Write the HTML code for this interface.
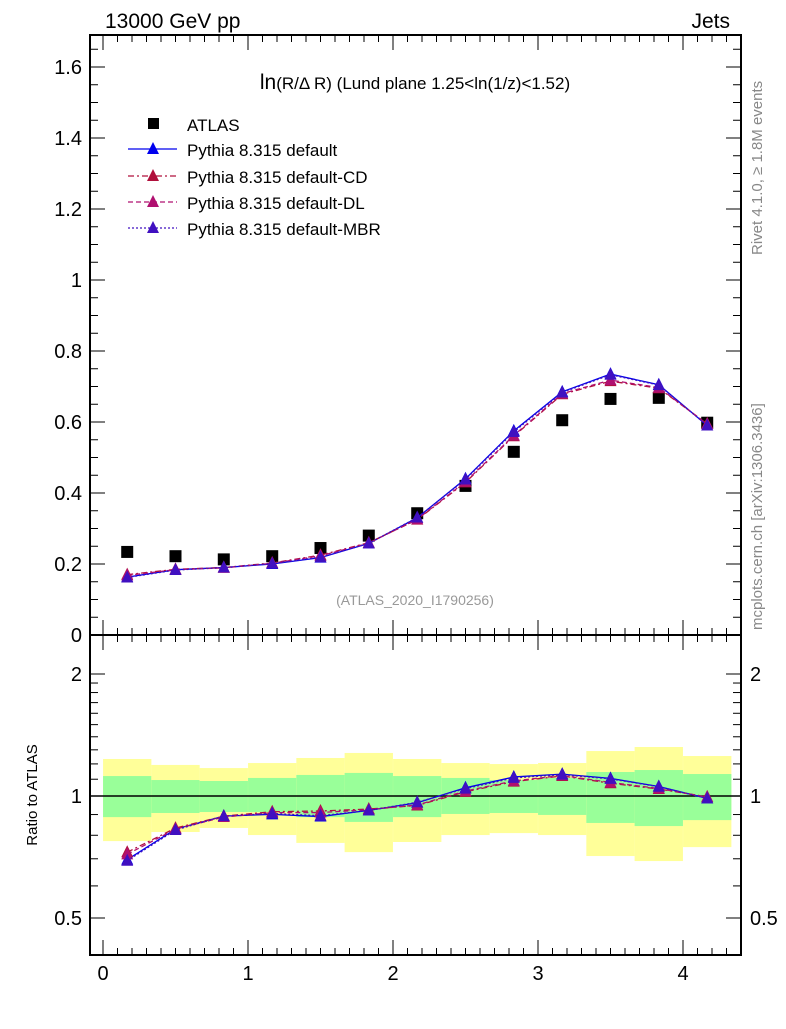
<!DOCTYPE html>
<html><head><meta charset="utf-8"><style>
body{margin:0;background:#fff}
svg text{font-family:"Liberation Sans",sans-serif}
</style></head><body>
<svg id="chart" width="786" height="1024" xmlns="http://www.w3.org/2000/svg">
<g id="bands"></g>
<g id="axes"></g>
<g id="series"></g>
<text x="105" y="28" font-size="21">13000 GeV pp</text>
<text x="730" y="28" font-size="21" text-anchor="end">Jets</text>
<text x="415" y="89" font-size="17" text-anchor="middle"><tspan font-size="21">ln</tspan>(R/Δ R) (Lund plane 1.25&lt;ln(1/z)&lt;1.52)</text>
<text x="415" y="605" font-size="14" fill="#999" text-anchor="middle">(ATLAS_2020_I1790256)</text>
<text transform="translate(762,255) rotate(-90)" font-size="15" fill="#888">Rivet 4.1.0, ≥ 1.8M events</text>
<text transform="translate(762,630) rotate(-90)" font-size="15" fill="#888">mcplots.cern.ch [arXiv:1306.3436]</text>
<text transform="translate(37,795) rotate(-90)" font-size="15" text-anchor="middle">Ratio to ATLAS</text>
<g id="legend"></g>
</svg>
<script>
const centers=[0.167,0.5,0.833,1.167,1.5,1.833,2.167,2.5,2.833,3.167,3.5,3.833,4.167];
const atlas=[0.234,0.222,0.213,0.222,0.245,0.28,0.343,0.42,0.516,0.605,0.665,0.668,0.598];
const mcDefault=[0.163,0.184,0.19,0.2,0.218,0.258,0.33,0.44,0.575,0.685,0.735,0.705,0.59];
const mcCD=[0.17,0.185,0.19,0.203,0.225,0.26,0.325,0.43,0.56,0.678,0.715,0.695,0.595];
const mcDL=[0.168,0.184,0.189,0.202,0.223,0.259,0.326,0.432,0.562,0.68,0.718,0.697,0.594];
const mcMBR=[0.162,0.183,0.19,0.201,0.219,0.258,0.331,0.438,0.572,0.683,0.733,0.704,0.59];
const greenUp=[1.12,1.095,1.089,1.108,1.127,1.14,1.12,1.108,1.095,1.108,1.146,1.159,1.133];
const greenLo=[0.887,0.908,0.913,0.913,0.887,0.863,0.887,0.903,0.908,0.898,0.858,0.843,0.872];
const yellowUp=[1.234,1.193,1.172,1.206,1.241,1.277,1.234,1.206,1.199,1.206,1.291,1.321,1.255];
const yellowLo=[0.774,0.815,0.834,0.801,0.766,0.727,0.77,0.801,0.81,0.801,0.711,0.691,0.748];
const mainTicks=["0","0.2","0.4","0.6","0.8","1","1.2","1.4","1.6"];
const xTicks=["0","1","2","3","4"];
const binW=1/3;

const NS="http://www.w3.org/2000/svg";
const L=90,R=741,T=35,MB=635,RB=955;
const X=v=>103+v*145;
const Y=v=>635-v*355;
const RY=r=>796-122*Math.log2(r);
function mk(p,tag,a){const e=document.createElementNS(NS,tag);for(const k in a)e.setAttribute(k,a[k]);p.appendChild(e);return e;}
const ax=document.getElementById('axes'),bd=document.getElementById('bands'),se=document.getElementById('series'),lg=document.getElementById('legend');

for(let i=0;i<centers.length;i++){
  const x0=X(centers[i]-binW/2),x1=X(centers[i]+binW/2);
  const y=mk(bd,'rect',{x:x0,y:RY(yellowUp[i]),width:x1-x0,height:RY(yellowLo[i])-RY(yellowUp[i]),fill:'#ffff99'});
  
  
  const g=mk(bd,'rect',{x:x0,y:RY(greenUp[i]),width:x1-x0,height:RY(greenLo[i])-RY(greenUp[i]),fill:'#99ff99'});
  
  
}
const f1=mk(ax,'rect',{x:L,y:T,width:R-L,height:MB-T,fill:'none',stroke:'#000','stroke-width':2});


const f2=mk(ax,'rect',{x:L,y:MB,width:R-L,height:RB-MB,fill:'none',stroke:'#000','stroke-width':2});


mk(ax,'line',{x1:L,x2:R,y1:RY(1),y2:RY(1),stroke:'#000','stroke-width':1.5});
for(let k=0;k<=33;k++){const v=k*0.05,y=Y(v);if(y<T)break;const len=k%4==0?15:8;
  mk(ax,'line',{x1:L,x2:L+len,y1:y,y2:y,stroke:'#000'});mk(ax,'line',{x1:R,x2:R-len,y1:y,y2:y,stroke:'#000'});}
mainTicks.forEach((t,i)=>{const v=parseFloat(t);const e=mk(ax,'text',{x:82,y:Y(v)+7,'font-size':20,'text-anchor':'end'});e.textContent=t;
  
  });
[0.5,0.6,0.7,0.8,0.9,1,1.1,1.2,1.3,1.4,1.5,1.6,1.7,1.8,1.9,2].forEach(r=>{const y=RY(r);const len=(r==0.5||r==1||r==2)?15:8;
  mk(ax,'line',{x1:L,x2:L+len,y1:y,y2:y,stroke:'#000'});mk(ax,'line',{x1:R,x2:R-len,y1:y,y2:y,stroke:'#000'});});
["0.5","1","2"].forEach(t=>{const y=RY(parseFloat(t))+7;
  const a=mk(ax,'text',{x:82,y:y,'font-size':20,'text-anchor':'end'});a.textContent=t;
  
  
  const b=mk(ax,'text',{x:750,y:y,'font-size':20});b.textContent=t;
  
  });
for(let k=0;k<=43;k++){const v=k*0.1,x=X(v);if(x>R)break;const len=k%10==0?15:7;
  mk(ax,'line',{x1:x,x2:x,y1:RB,y2:RB-len,stroke:'#000'});mk(ax,'line',{x1:x,x2:x,y1:MB,y2:MB-len,stroke:'#000'});mk(ax,'line',{x1:x,x2:x,y1:MB,y2:MB+len,stroke:'#000'});mk(ax,'line',{x1:x,x2:x,y1:T,y2:T+len,stroke:'#000'});}
xTicks.forEach(t=>{const e=mk(ax,'text',{x:X(parseFloat(t)),y:980,'font-size':20,'text-anchor':'middle'});e.textContent=t;
  
  });

const mcs=[{d:mcDefault,c:'#0000ee',dash:'',n:'default'},{d:mcCD,c:'#b0103c',dash:'6,3,2,3',n:'cd'},{d:mcDL,c:'#b01070',dash:'5,3',n:'dl'},{d:mcMBR,c:'#4010c0',dash:'2,2',n:'mbr'}];
function tri(p,x,y,c){return mk(p,'polygon',{points:`${x},${y-7} ${x-6},${y+5} ${x+6},${y+5}`,fill:c});}
atlas.forEach((v,i)=>{const e=mk(se,'rect',{x:X(centers[i])-6,y:Y(v)-6,width:12,height:12,fill:'#000'});
  
  });
mcs.forEach(s=>{
  const g=mk(se,'g',{});
  
  
  const pts=s.d.map((v,i)=>X(centers[i])+','+Y(v)).join(' ');
  mk(g,'polyline',{points:pts,fill:'none',stroke:s.c,'stroke-width':1.3,'stroke-dasharray':s.dash});
  const rpts=s.d.map((v,i)=>X(centers[i])+','+RY(v/atlas[i])).join(' ');
  mk(g,'polyline',{points:rpts,fill:'none',stroke:s.c,'stroke-width':1.3,'stroke-dasharray':s.dash});
  s.d.forEach((v,i)=>{const t=tri(g,X(centers[i]),Y(v),s.c);
    const r=tri(g,X(centers[i]),RY(v/atlas[i]),s.c);});
});

const items=[{t:'ATLAS',y:124},{t:'Pythia 8.315 default',y:149,c:'#0000ee',dash:''},{t:'Pythia 8.315 default-CD',y:176,c:'#b0103c',dash:'6,3,2,3'},{t:'Pythia 8.315 default-DL',y:202,c:'#b01070',dash:'5,3'},{t:'Pythia 8.315 default-MBR',y:228,c:'#4010c0',dash:'2,2'}];
items.forEach(it=>{const g=mk(lg,'g',{});
  
  
  if(!it.c){mk(g,'rect',{x:148,y:it.y-6,width:11,height:11,fill:'#000'});}
  else{mk(g,'line',{x1:128,x2:177,y1:it.y,y2:it.y,stroke:it.c,'stroke-width':1.3,'stroke-dasharray':it.dash});tri(g,153,it.y,it.c);}
  const t=mk(g,'text',{x:187,y:it.y+7,'font-size':17});t.textContent=it.t;});
</script>
</body></html>
